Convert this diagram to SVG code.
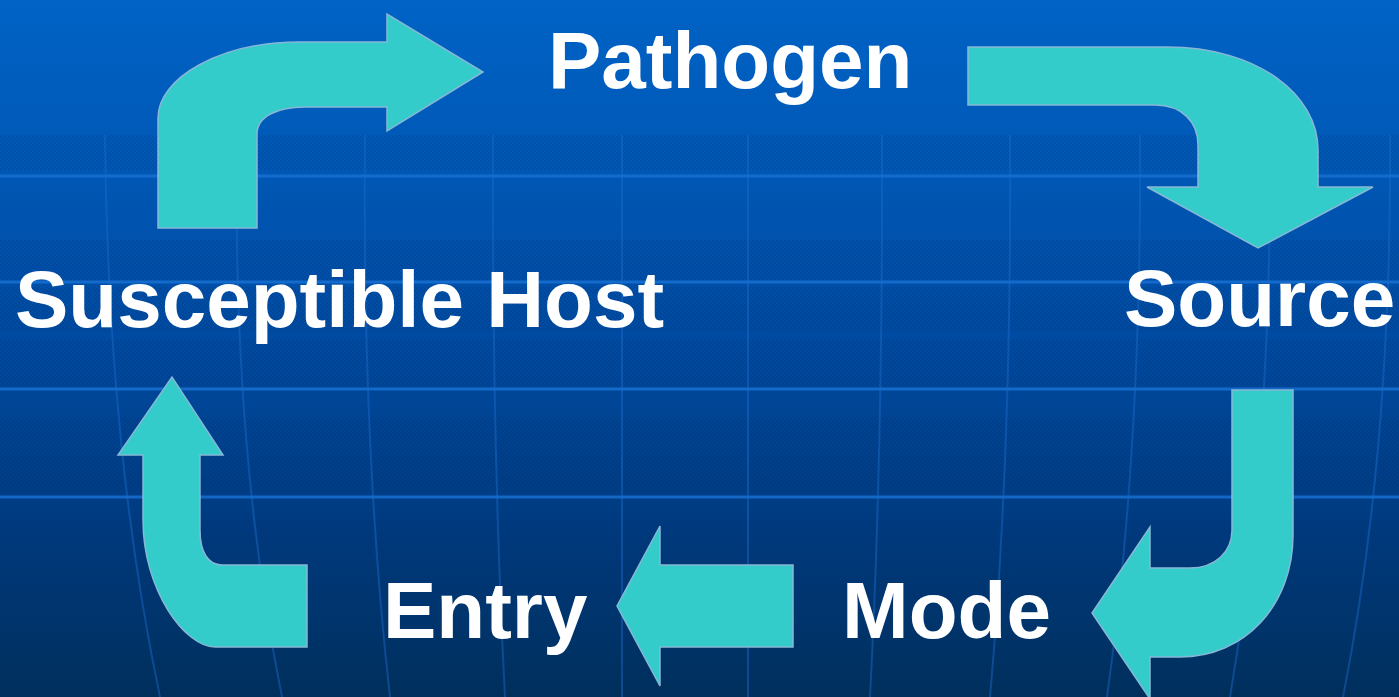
<svg xmlns="http://www.w3.org/2000/svg" width="1399" height="697" viewBox="0 0 1399 697">
  <defs>
    <linearGradient id="bg" x1="0" y1="0" x2="0" y2="1">
      <stop offset="0" stop-color="#0063c6"/>
      <stop offset="0.25" stop-color="#0057b4"/>
      <stop offset="0.5" stop-color="#004aa0"/>
      <stop offset="0.75" stop-color="#003b80"/>
      <stop offset="1" stop-color="#002f5c"/>
    </linearGradient>
    <pattern id="checker" width="4" height="4" patternUnits="userSpaceOnUse">
      <rect x="0" y="0" width="2" height="2" fill="#002a66"/>
      <rect x="2" y="2" width="2" height="2" fill="#002a66"/>
    </pattern>
    <style>
      .arrow { fill: #33cccb; stroke: #86b8d6; stroke-width: 1.5; stroke-linejoin: miter; }
      .label { font-family: "Liberation Sans", Arial, sans-serif; font-weight: bold; font-size: 80px; fill: #ffffff; }
      .hline { stroke: #1a72d6; stroke-width: 3; opacity: 0.8; }
      .vline { stroke: #1a6ccc; stroke-width: 2; fill: none; opacity: 0.45; }
    </style>
  </defs>

  <g id="background">
    <rect x="0" y="0" width="1399" height="697" fill="url(#bg)"/>
    <g opacity="0.16">
      <rect x="0" y="135" width="1399" height="35" fill="url(#checker)"/>
      <rect x="0" y="240" width="1399" height="40" fill="url(#checker)"/>
      <rect x="0" y="287" width="1399" height="44" fill="url(#checker)"/>
      <rect x="0" y="340" width="1399" height="46" fill="url(#checker)"/>
      <rect x="0" y="417" width="1399" height="75" fill="url(#checker)"/>
      <rect x="0" y="520" width="1399" height="80" fill="url(#checker)"/>
    </g>
    <line class="hline" x1="0" y1="176" x2="1399" y2="176"/>
    <line class="hline" x1="0" y1="282" x2="1399" y2="282"/>
    <line class="hline" x1="0" y1="389" x2="1399" y2="389"/>
    <line class="hline" x1="0" y1="497" x2="1399" y2="497"/>
    <path class="vline" d="M105,135 Q108,450 160,697"/>
    <path class="vline" d="M237,135 Q232,450 282,697"/>
    <path class="vline" d="M365,135 Q362,450 390,697"/>
    <path class="vline" d="M493,135 Q492,450 505,697"/>
    <path class="vline" d="M622,135 L622,697"/>
    <path class="vline" d="M748,135 L748,697"/>
    <path class="vline" d="M882,135 Q883,450 870,697"/>
    <path class="vline" d="M1010,135 Q1012,450 990,697"/>
    <path class="vline" d="M1140,135 Q1142,450 1107,697"/>
    <path class="vline" d="M1270,135 Q1272,450 1230,697"/>
    <path class="vline" d="M1390,135 Q1392,450 1343,697"/>
  </g>

  <g id="connectors">
    <path id="arrow-host-pathogen" class="arrow" d="M158,228 L158,118 C158,78 220,42 300,42 L387,42 L387,14 L483,72 L387,131 L387,107 L305,107 C278,107 257,116 257,134 L257,228 Z"/>
    <path id="arrow-pathogen-source" class="arrow" d="M968,47 L1167,47 C1258,47 1318,95 1318,150 L1318,187 L1373,187 L1258,248 L1147,187 L1198,187 L1198,145 C1198,122 1182,105 1155,105 L968,105 Z"/>
    <path id="arrow-source-mode" class="arrow" d="M1232,390 L1293,390 L1293,535 C1293,605 1245,657 1180,657 L1150,657 L1150,699 L1092,613 L1150,527 L1150,568 L1190,568 C1215,568 1232,552 1232,530 Z"/>
    <path id="arrow-mode-entry" class="arrow" d="M793,565 L793,647 L660,647 L660,686 L617,606 L660,526 L660,565 Z"/>
    <path id="arrow-entry-host" class="arrow" d="M307,565 L307,647 L215,647 C185,647 143,590 143,520 L143,455 L118,455 L172,377 L223,455 L200,455 L200,530 C200,552 208,565 222,565 Z"/>
  </g>

  <g id="node-pathogen"><text class="label" x="548" y="88">Pathogen</text></g>
  <g id="node-source"><text class="label" x="1124" y="326">Source</text></g>
  <g id="node-host"><text class="label" x="15" y="327">Susceptible Host</text></g>
  <g id="node-mode"><text class="label" x="842" y="638">Mode</text></g>
  <g id="node-entry"><text class="label" x="383" y="638">Entry</text></g>
</svg>
